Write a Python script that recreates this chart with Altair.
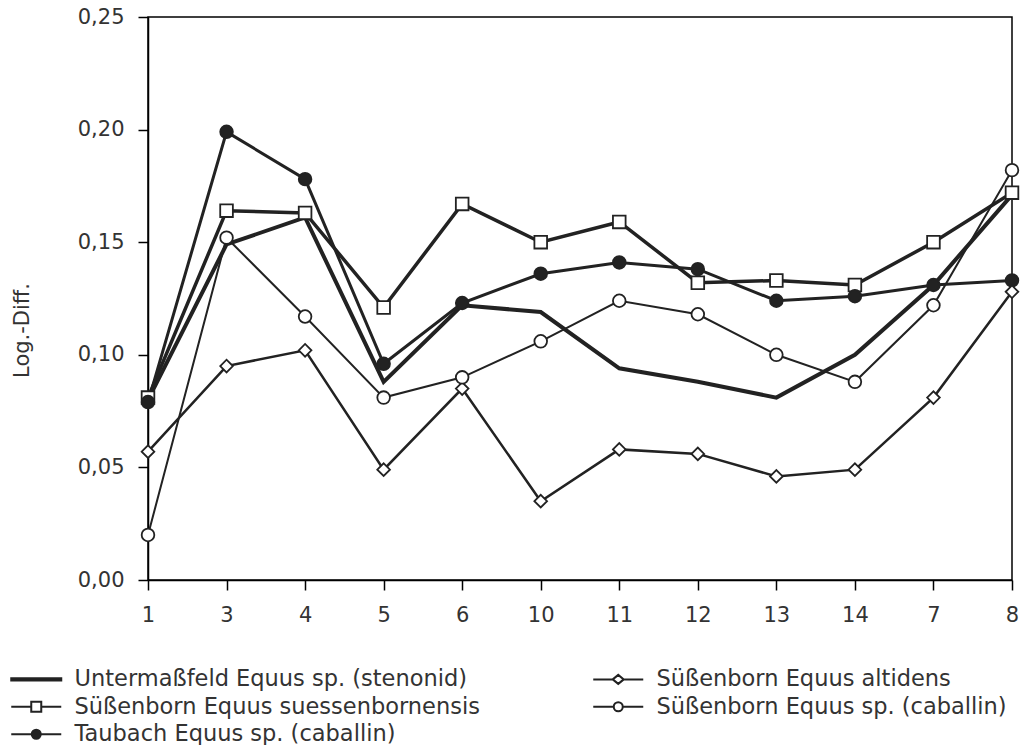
import altair as alt
import pandas as pd

categories = ["1", "3", "4", "5", "6", "10", "11", "12", "13", "14", "7", "8"]

untermassfeld = [0.080, 0.149, 0.161, 0.088, 0.122, 0.119, 0.094, 0.088, 0.081, 0.100, 0.131, 0.171]
suessenbornensis = [0.081, 0.164, 0.163, 0.121, 0.167, 0.150, 0.159, 0.132, 0.133, 0.131, 0.150, 0.172]
taubach = [0.079, 0.199, 0.178, 0.096, 0.123, 0.136, 0.141, 0.138, 0.124, 0.126, 0.131, 0.133]
altidens = [0.057, 0.095, 0.102, 0.049, 0.085, 0.035, 0.058, 0.056, 0.046, 0.049, 0.081, 0.128]
caballin = [0.020, 0.152, 0.117, 0.081, 0.090, 0.106, 0.124, 0.118, 0.100, 0.088, 0.122, 0.182]

names = [
    "Untermaßfeld Equus sp. (stenonid)",
    "Süßenborn Equus suessenbornensis",
    "Taubach Equus sp. (caballin)",
    "Süßenborn Equus altidens",
    "Süßenborn Equus sp. (caballin)",
]
series_values = [untermassfeld, suessenbornensis, taubach, altidens, caballin]

rows = []
for name, vals in zip(names, series_values):
    for c, v in zip(categories, vals):
        rows.append({"cat": c, "value": v, "series": name})
df = pd.DataFrame(rows)

INK = "#222222"
TXT = "#333333"
FONT = "DejaVu Sans"

x_enc = alt.X("cat:O", sort=categories, scale=alt.Scale(type="point", padding=0),
              axis=alt.Axis(title=None, labelAngle=0, tickSize=10, labelPadding=14,
                            labelFontSize=21, labelColor=TXT, labelFont=FONT,
                            domainColor="black", domainWidth=1.5, tickColor="black",
                            tickWidth=1.5, grid=False))
y_enc = alt.Y("value:Q", scale=alt.Scale(domain=[0, 0.25], nice=False, zero=True),
              axis=alt.Axis(title="Log.-Diff.", values=[0, 0.05, 0.10, 0.15, 0.20, 0.25],
                            labelExpr="replace(format(datum.value, '.2f'), '.', ',')",
                            tickSize=10, labelPadding=14, labelFontSize=21, labelColor=TXT,
                            labelFont=FONT, titleFont=FONT, titleFontSize=21,
                            titleFontWeight="normal", titleColor=TXT,
                            titleAngle=270, titleX=-126, titleY=313,
                            titleAlign="center", titleBaseline="middle",
                            domainColor="black", domainWidth=1.5, tickColor="black",
                            tickWidth=1.5, grid=False))

lines = alt.Chart(df).mark_line(color=INK).encode(
    x=x_enc, y=y_enc,
    detail="series:N",
    strokeWidth=alt.StrokeWidth("series:N", scale=alt.Scale(domain=names, range=[4, 2, 2, 2, 2]),
                                legend=None),
)

marker_names = names[1:]
points = alt.Chart(df).transform_filter(
    alt.FieldOneOfPredicate(field="series", oneOf=marker_names)
).mark_point(stroke=INK, strokeWidth=1.8, opacity=1).encode(
    x=x_enc, y=y_enc,
    shape=alt.Shape("series:N", scale=alt.Scale(domain=marker_names,
                                                range=["square", "circle", "diamond", "circle"]),
                    legend=None),
    fill=alt.Fill("series:N", scale=alt.Scale(domain=marker_names,
                                              range=["white", INK, "white", "white"]),
                  legend=None),
    size=alt.Size("series:N", scale=alt.Scale(domain=marker_names, range=[160, 160, 110, 160]),
                  legend=None),
)

# legend symbols: unit = 10 px (symbol size 400)
legend_order = [names[0], names[3], names[1], names[4], names[2]]
p_thick = "M-2.5,-0.12H2.5V0.12H-2.5Z"
p_square = "M-2.5,0H-0.5M0.5,0H2.5M-0.5,-0.5H0.5V0.5H-0.5Z"
p_circle = "M-2.5,0H-0.45M0.45,0H2.5M-0.45,0A0.45,0.45 0 1,0 0.45,0A0.45,0.45 0 1,0 -0.45,0Z"
p_diamond = "M-2.5,0H-0.55M0.55,0H2.5M-0.55,0L0,-0.45L0.55,0L0,0.45Z"
legend_shapes = [p_thick, p_diamond, p_square, p_circle, p_circle]
legend_fills = [INK, "white", "white", "white", INK]
legend_strokes = [INK] * 5

legend_cfg = alt.Legend(title=None, orient="none", legendX=-123, legendY=651, columns=2,
                        direction="horizontal", columnPadding=109, rowPadding=4.5,
                        symbolSize=400, symbolStrokeWidth=2, labelFont=FONT,
                        labelFontSize=22.5, labelColor=TXT, labelLimit=0, labelOffset=27,
                        symbolOpacity=1)
legend_layer = alt.Chart(df).transform_filter("false").mark_point(
    strokeWidth=2, size=400, opacity=1).encode(
    x=x_enc, y=y_enc,
    shape=alt.Shape("series:N", scale=alt.Scale(domain=legend_order, range=legend_shapes),
                    legend=legend_cfg),
    fill=alt.Fill("series:N", scale=alt.Scale(domain=legend_order, range=legend_fills),
                  legend=legend_cfg),
    stroke=alt.Stroke("series:N", scale=alt.Scale(domain=legend_order, range=legend_strokes),
                      legend=legend_cfg),
)

chart = alt.layer(lines, points, legend_layer).resolve_scale(
    shape="independent", fill="independent", size="independent", stroke="independent"
).properties(
    width=864, height=563,
    autosize=alt.AutoSizeParams(type="none"),
    padding={"left": 148, "top": 17, "right": 17, "bottom": 165},
    background="white",
).configure_view(stroke="black", strokeWidth=1.5)

chart.save("out.html", embed_options={"renderer": "svg", "actions": False})
